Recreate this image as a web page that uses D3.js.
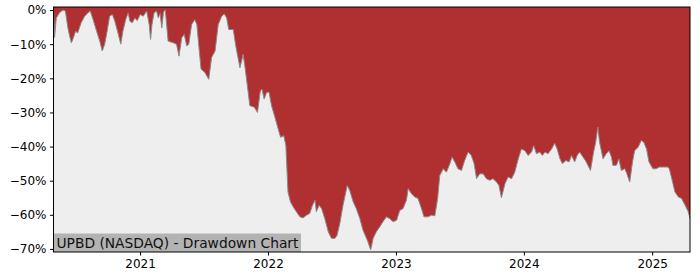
<!DOCTYPE html>
<html>
<head>
<meta charset="utf-8">
<script src="https://cdn.jsdelivr.net/npm/d3@7/dist/d3.min.js"></script>
<style>
  html, body { margin: 0; padding: 0; background: #ffffff; }
  svg { display: block; }
</style>
</head>
<body>
<svg id="chart" width="700" height="280"></svg>
<script>
// ---- data ----
const title = "UPBD (NASDAQ) - Drawdown Chart";
const dates = [
  "2020-04-29","2020-05-02","2020-05-07","2020-05-16","2020-05-26","2020-06-02","2020-06-09","2020-06-14","2020-06-19","2020-06-23",
  "2020-07-01","2020-07-07","2020-07-17","2020-07-27","2020-08-05","2020-08-12","2020-08-20","2020-08-30","2020-09-08","2020-09-15",
  "2020-09-22","2020-09-29","2020-10-06","2020-10-14","2020-10-21","2020-10-31","2020-11-07","2020-11-13","2020-11-21","2020-11-28",
  "2020-12-03","2020-12-10","2020-12-17","2020-12-24",
  "2021-01-01","2021-01-10","2021-01-20","2021-01-27","2021-01-31","2021-02-04","2021-02-10","2021-02-17","2021-02-22","2021-02-27",
  "2021-03-04","2021-03-09","2021-03-14","2021-03-22","2021-04-06","2021-04-15","2021-04-22","2021-04-30","2021-05-07","2021-05-14",
  "2021-05-20","2021-05-28","2021-06-06","2021-06-12","2021-06-18","2021-06-24","2021-07-05","2021-07-16","2021-07-24","2021-08-03",
  "2021-08-12","2021-08-22","2021-08-29","2021-09-05","2021-09-11","2021-09-24","2021-10-01","2021-10-13","2021-10-22","2021-10-27",
  "2021-11-05","2021-11-10","2021-11-23","2021-12-02","2021-12-10","2021-12-15","2021-12-21","2021-12-28",
  "2022-01-04","2022-01-11","2022-01-21","2022-01-30","2022-02-06","2022-02-15","2022-02-21","2022-02-27","2022-03-06","2022-03-14",
  "2022-03-23","2022-04-02","2022-04-11","2022-04-21","2022-04-30","2022-05-08","2022-05-15","2022-05-19","2022-05-27","2022-06-03",
  "2022-06-12","2022-06-22","2022-07-01","2022-07-11","2022-07-17","2022-07-25","2022-08-03","2022-08-15","2022-08-22","2022-09-01",
  "2022-09-10","2022-09-20","2022-09-29","2022-10-09","2022-10-13","2022-10-21","2022-10-28","2022-11-06","2022-11-16","2022-11-25",
  "2022-12-05","2022-12-14","2022-12-24",
  "2023-01-03","2023-01-12","2023-01-21","2023-01-31","2023-02-05","2023-02-14","2023-02-24","2023-03-05","2023-03-15","2023-03-22",
  "2023-04-03","2023-04-12","2023-04-22","2023-04-30","2023-05-06","2023-05-16","2023-05-25","2023-06-04","2023-06-10","2023-06-18",
  "2023-06-27","2023-07-07","2023-07-16","2023-07-26","2023-08-04","2023-08-12","2023-08-19","2023-08-28","2023-09-07","2023-09-16",
  "2023-09-26","2023-10-05","2023-10-15","2023-10-22","2023-10-29","2023-11-08","2023-11-17","2023-11-27","2023-12-06","2023-12-16",
  "2023-12-25",
  "2024-01-04","2024-01-13","2024-01-23","2024-01-29","2024-02-06","2024-02-15","2024-02-23","2024-03-01","2024-03-10","2024-03-20",
  "2024-03-29","2024-04-05","2024-04-13","2024-04-20","2024-04-30","2024-05-09","2024-05-16","2024-05-25","2024-06-01","2024-06-08",
  "2024-06-18","2024-06-27","2024-07-09","2024-07-18","2024-07-24","2024-07-30","2024-08-04","2024-08-14","2024-08-23","2024-08-31",
  "2024-09-07","2024-09-11","2024-09-21","2024-09-28","2024-10-05","2024-10-15","2024-10-21","2024-10-29","2024-11-06","2024-11-12",
  "2024-11-22","2024-12-01","2024-12-08","2024-12-16","2024-12-23",
  "2025-01-03","2025-01-12","2025-01-22","2025-02-02","2025-02-14","2025-02-19","2025-02-26","2025-03-07","2025-03-17","2025-03-26",
  "2025-04-05","2025-04-14","2025-04-19"
];
const drawdown = [
  0,-8.0,-2.3,-0.8,0,-0.3,-5.2,-7.6,-9.6,-8.6,
  -6.2,-6.7,-3.7,-1.8,-0.8,-0.3,-2.8,-6.2,-9.1,-12.0,
  -10.0,-6.2,-1.8,-1.3,-3.3,-7.1,-10.0,-6.2,-2.8,-0.8,
  -3.3,-3.7,-2.3,-3.1,
  -1.3,-1.8,-0.3,-4.2,-8.6,-4.2,-0.8,-0.3,-2.3,-1.0,
  -5.2,-0.5,0,-9.1,-9.6,-10.0,-13.5,-8.1,-7.1,-10.5,
  -10.0,-4.2,-2.8,-4.2,-11.0,-17.3,-18.3,-20.3,-13.9,-12.0,
  -4.2,-1.8,-1.1,-2.3,-5.7,-5.7,-10.5,-16.9,-13.0,-16.4,
  -23.7,-28.0,-28.5,-30.0,-23.7,-23.2,-26.1,-24.1,
  -24.1,-28.0,-31.5,-34.8,-37.3,-36.8,-39.7,-53.3,-56.2,-57.7,
  -59.1,-60.6,-60.9,-60.1,-59.6,-57.2,-55.7,-59.1,-57.2,-58.2,
  -61.1,-65.0,-66.9,-66.9,-66.0,-62.5,-57.2,-51.4,-52.8,-56.2,
  -58.2,-61.1,-64.5,-66.9,-67.9,-70.3,-66.9,-65.0,-63.5,-62.0,
  -60.6,-61.1,-62.0,
  -61.6,-58.7,-58.2,-55.7,-52.3,-53.8,-54.8,-55.2,-58.2,-60.6,
  -60.6,-60.1,-60.3,-55.2,-48.5,-46.5,-47.5,-45.0,-43.1,-44.5,
  -46.5,-47.0,-44.1,-41.6,-42.6,-45.0,-49.4,-48.0,-48.0,-49.4,
  -49.9,-49.4,-50.4,-51.4,-55.0,-50.9,-48.9,-49.4,-47.5,-43.6,
  -40.7,
  -41.2,-42.6,-41.6,-39.7,-42.1,-41.6,-42.6,-41.6,-42.1,-40.7,
  -39.0,-40.7,-43.6,-45.0,-44.1,-44.5,-42.6,-44.5,-42.6,-41.6,
  -43.1,-44.5,-47.0,-41.6,-38.7,-34.3,-38.7,-43.6,-42.1,-41.2,
  -43.1,-45.5,-45.5,-43.6,-47.0,-46.5,-48.0,-50.4,-44.5,-41.2,
  -40.2,-38.2,-38.7,-40.7,-44.5,
  -46.5,-46.5,-46.0,-46.0,-46.0,-46.5,-49.4,-53.3,-54.8,-55.2,
  -57.2,-59.1,-61.1
];
const yTicks = [0,-10,-20,-30,-40,-50,-60,-70];
const xTickYears = [2021,2022,2023,2024,2025];
const yDomain = [0.9, -70.9];

// ---- drawing ----
const svg = d3.select("#chart");
const L = 53.5, R = 690, T = 7, B = 252;
const parse = d3.timeParse("%Y-%m-%d");
const pts = dates.map((d, i) => ({ date: parse(d), v: drawdown[i] }));

const x = d3.scaleTime().domain(d3.extent(pts, d => d.date)).range([L, R]);
const y = d3.scaleLinear().domain(yDomain).range([T, B]);

const g = svg.append("g");
g.append("rect").attr("x", L).attr("y", T).attr("width", R - L).attr("height", B - T).attr("fill", "#eeeeee");

g.append("path").datum(pts)
  .attr("fill", "#b03031")
  .attr("d", d3.area().x(d => x(d.date)).y0(T).y1(d => y(d.v)));

g.append("path").datum(pts)
  .attr("fill", "none").attr("stroke", "#8a8a8a").attr("stroke-width", 1)
  .attr("d", d3.line().x(d => x(d.date)).y(d => y(d.v)));

// label box
const lab = g.append("g");
const labText = lab.append("text")
  .attr("x", L + 3).attr("y", B - 4.5)
  .attr("font-family", "DejaVu Sans").attr("font-size", 13.8).attr("fill", "#111")
  .text(title);
const bb = labText.node().getBBox();
lab.insert("rect", "text").attr("x", L).attr("y", 233.5).attr("width", bb.width + 5).attr("height", B - 233.5).attr("fill", "#b3b3b3");

// axes
const yAxis = d3.axisLeft(y).tickValues(yTicks).tickSize(3.5).tickPadding(3.5)
  .tickFormat(d => (d < 0 ? "\u2212" + Math.abs(d) : d) + "%");
const xAxis = d3.axisBottom(x).tickValues(xTickYears.map(yr => new Date(yr, 0, 1))).tickSize(3.5).tickPadding(3.5)
  .tickFormat(d3.timeFormat("%Y"));

const ya = svg.append("g").attr("transform", `translate(${L},0)`).call(yAxis);
const xa = svg.append("g").attr("transform", `translate(0,${B})`).call(xAxis);
[ya, xa].forEach(a => {
  a.select(".domain").remove();
  a.selectAll("text").attr("font-family", "DejaVu Sans").attr("font-size", 12).attr("fill", "#000");
  a.selectAll("line").attr("stroke", "#000");
});

// frame
svg.append("rect").attr("x", L).attr("y", T).attr("width", R - L).attr("height", B - T)
  .attr("fill", "none").attr("stroke", "#000").attr("stroke-width", 1);
</script>
</body>
</html>
